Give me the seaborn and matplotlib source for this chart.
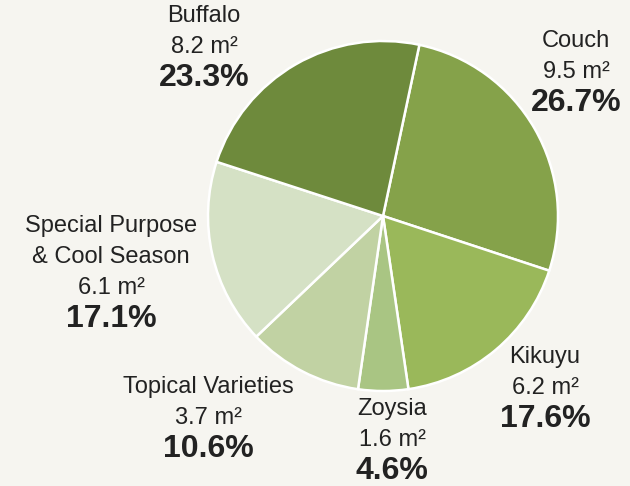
import numpy as np
import seaborn as sns
import matplotlib.pyplot as plt

# data
names = ["Couch", "Kikuyu", "Zoysia", "Topical Varieties",
         "Special Purpose\n& Cool Season", "Buffalo"]
areas = [9.5, 6.2, 1.6, 3.7, 6.1, 8.2]
shares = [26.7, 17.6, 4.6, 10.6, 17.1, 23.3]
colors = ["#85a24a", "#9ab85a", "#a9c583", "#c1d2a3", "#d5e1c5", "#6e8a3c"]

# position of each area line, in pixels of the 630x486 canvas (layout only)
label_px = [(576, 72), (545, 388), (392, 440), (208, 418), (111, 288), (204, 47)]

sns.set_theme(style="white")
plt.rcParams['font.family'] = ['Liberation Sans', 'DejaVu Sans']

bg = "#f6f5f0"
ink = "#222222"
fig = plt.figure(figsize=(6.3, 4.86), dpi=100, facecolor=bg)
ax = fig.add_axes([0, 0, 1, 1])
ax.set_facecolor(bg)

cx, cy, r = 383, 216, 175  # pie centre and radius in pixels
ax.pie(shares, colors=colors, startangle=78, counterclock=False,
       radius=1, center=(0, 0),
       wedgeprops=dict(edgecolor="white", linewidth=1.8))

ax.set_xlim(-cx / r, (630 - cx) / r)
ax.set_ylim(-(486 - cy) / r, cy / r)
ax.set_aspect("equal")
ax.axis("off")

lh = 31 / r  # line step in data units
for name, a, s, (px, py) in zip(names, areas, shares, label_px):
    x = (px - cx) / r
    y = (cy - py) / r
    lines = name.split("\n")
    for i, line in enumerate(reversed(lines)):
        ax.text(x, y + lh * (i + 1), line, ha="center", va="center",
                fontsize=17, color=ink)
    ax.text(x, y, f"{a} m²", ha="center", va="center", fontsize=17, color=ink)
    ax.text(x, y - lh, f"{s}%", ha="center", va="center", fontsize=23,
            fontweight="bold", color=ink)

fig.savefig("out.png", dpi=100, facecolor=bg)
